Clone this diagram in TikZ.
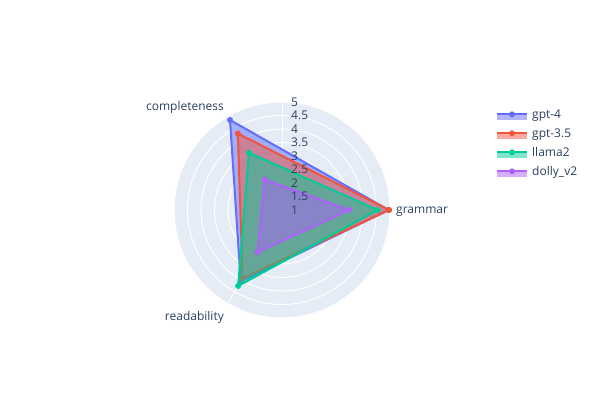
\documentclass[tikz,border=0pt]{standalone}
\usepackage{fontspec}
\setmainfont{Open Sans}
\usetikzlibrary{positioning}
\definecolor{polarbg}{HTML}{E5ECF6}
\definecolor{fontcol}{HTML}{2A3F5F}
\definecolor{gptfour}{HTML}{636EFA}
\definecolor{gptthree}{HTML}{EF553B}
\definecolor{llama}{HTML}{00CC96}
\definecolor{dolly}{HTML}{AB63FA}

\begin{document}
\begin{tikzpicture}[
  x=1pt, y=1pt,
  lbl/.style={font=\fontsize{12}{14}\selectfont, text=fontcol, inner sep=0pt},
  series/.style={draw=#1, fill=#1, fill opacity=0.5, draw opacity=1, line width=2pt, line join=round},
  gridline/.style={draw=white, line width=1pt}
]
\useasboundingbox (0,0) rectangle (600,400);

% Polar background
\begin{scope}[shift={(282,190)}]
\coordinate (centre) at (0,0);
\fill[polarbg] (centre) circle (108);
\foreach \v in {1.5,2,...,5} \draw[gridline] (centre) circle ({27*(\v-1)});
\foreach \a in {0,120,240} \draw[gridline] (centre) -- (\a:108);
\draw[gridline] (centre) -- (90:108);

% Series: grammar / completeness / readability
\foreach \col/\g/\c/\r in {gptfour/4.95/4.85/4.06, gptthree/4.97/4.27/3.92, llama/4.54/3.45/4.25, dolly/3.49/2.30/2.81} {
  \draw[series=\col] (0:{27*(\g-1)}) -- (120:{27*(\c-1)}) -- (240:{27*(\r-1)}) -- cycle;
  \foreach \a/\v in {0/\g, 120/\c, 240/\r}
    \fill[\col] (\a:{27*(\v-1)}) circle (3);
}

% Radial ticks
\foreach \v in {1,1.5,...,5}
  \node[lbl, anchor=base west] at (9,{27*(\v-1)-4.2}) {\v};
\end{scope}

% Axis labels
\node[lbl, anchor=base west] (grammar) at (396,186.5) {grammar};
\node[lbl, anchor=base east] (completeness) at (224,289.5) {completeness};
\node[lbl, anchor=base east] (readability) at (224,79.5) {readability};

% Legend
\foreach \col/\name [count=\i] in {gptfour/gpt-4, gptthree/gpt-3.5, llama/llama2, dolly/dolly\_v2} {
  \coordinate (leg\i) at (497,{304.7-19*\i});
  \fill[\col, opacity=0.5] (leg\i) rectangle ++(30,-6);
  \draw[\col, line width=2pt] (leg\i) -- ++(30,0);
  \fill[\col] ([xshift=15pt]leg\i) circle (3);
  \node[lbl, anchor=base west] (name\i) at ([xshift=35pt,yshift=-4.4pt]leg\i) {\name};
}
\end{tikzpicture}
\end{document}
